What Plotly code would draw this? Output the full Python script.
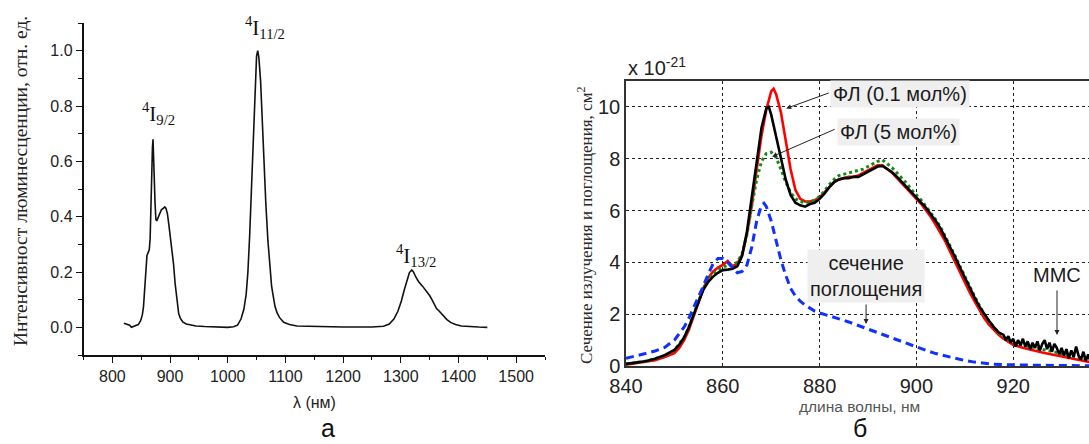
import plotly.graph_objects as go

# ---------------- data: panel (a) luminescence spectrum ----------------
lum_wl = [820, 825, 830, 833, 836, 840, 845, 849, 852, 854, 856, 858, 860, 862, 864, 865.5, 866.5, 868,
          869.5, 870.5, 871.5, 872.5, 874, 875.5, 877, 879, 882, 885, 888, 891, 893, 895.5, 898, 900,
          903, 906, 909, 912, 915, 918, 922, 928, 935, 945, 960, 980, 1000, 1010, 1017, 1023, 1028,
          1032, 1035, 1038, 1041, 1044, 1047, 1050, 1052, 1054, 1057, 1060, 1063, 1066, 1069.6, 1073,
          1076, 1078.3, 1082, 1086, 1090, 1097, 1107, 1120, 1150, 1200, 1250, 1270, 1280, 1288, 1295,
          1301, 1306, 1311, 1315, 1319, 1322, 1326, 1331, 1338, 1345, 1350, 1354, 1358, 1362, 1366,
          1370, 1375, 1380, 1387, 1395, 1405, 1420, 1435, 1450]
lum_int = [0.015, 0.012, 0.008, 0.0, 0.002, 0.004, 0.01, 0.024, 0.045, 0.075, 0.13, 0.2, 0.26, 0.27,
           0.28, 0.32, 0.42, 0.55, 0.65, 0.68, 0.64, 0.55, 0.45, 0.39, 0.385, 0.395, 0.41, 0.425, 0.43,
           0.435, 0.43, 0.41, 0.37, 0.34, 0.29, 0.23, 0.155, 0.09, 0.05, 0.032, 0.02, 0.012, 0.008,
           0.005, 0.003, 0.001, 0.0, 0.002, 0.008, 0.03, 0.065, 0.12, 0.2, 0.33, 0.5, 0.71, 0.88, 0.98,
           1.0, 0.975, 0.89, 0.74, 0.58, 0.45, 0.315, 0.21, 0.15, 0.12, 0.075, 0.05, 0.035, 0.018,
           0.01, 0.005, 0.003, 0.001, 0.001, 0.004, 0.012, 0.03, 0.058, 0.095, 0.135, 0.175, 0.198,
           0.207, 0.2, 0.182, 0.165, 0.148, 0.13, 0.115, 0.1, 0.082, 0.068, 0.06, 0.05, 0.038, 0.028,
           0.017, 0.01, 0.005, 0.002, 0.001, 0.0]
a_xticks = [800, 900, 1000, 1100, 1200, 1300, 1400, 1500]
a_yticks = [0.0, 0.2, 0.4, 0.6, 0.8, 1.0]
a_labels = ["<sup>4</sup>I<sub>9/2</sub>", "<sup>4</sup>I<sub>11/2</sub>", "<sup>4</sup>I<sub>13/2</sub>"]
a_label_x = [879.5, 1063.8, 1326.4]
a_label_y = [0.773, 1.083, 0.26]

# ---------------- data: panel (б) cross sections (x 1e-21 cm^2) ----------------
red_wl = [840, 842, 844, 846, 848, 850, 851, 852, 853, 854, 855, 856, 857, 858, 859, 860, 861, 862,
          863, 864, 865, 866, 867, 868, 869, 870, 870.5, 871, 872, 873, 874, 875, 876, 877, 878, 879,
          880, 881, 882, 883, 884, 885, 886, 887, 888, 889, 890, 891, 892, 893, 894, 895, 896, 897,
          898, 899, 900, 901, 902, 903, 904, 905, 906, 907, 908, 909, 910, 911, 912, 913, 914, 915,
          916, 917, 918, 919, 920, 922, 924, 926, 928, 930, 932, 934, 936]
red_sig = [0.05, 0.1, 0.15, 0.22, 0.35, 0.5, 0.7, 1.0, 1.4, 1.95, 2.5, 3.0, 3.4, 3.65, 3.8, 3.9, 4.05,
           3.85, 3.95, 4.3, 5.1, 6.2, 7.6, 8.9, 9.9, 10.6, 10.7, 10.5, 9.8, 8.7, 7.6, 6.8, 6.45, 6.35,
           6.35, 6.4, 6.5, 6.7, 6.9, 7.1, 7.2, 7.25, 7.3, 7.3, 7.35, 7.45, 7.55, 7.65, 7.75, 7.75, 7.6,
           7.45, 7.25, 7.05, 6.85, 6.65, 6.45, 6.25, 6.0, 5.75, 5.45, 5.15, 4.8, 4.4, 4.0, 3.6, 3.25,
           2.85, 2.5, 2.15, 1.85, 1.6, 1.4, 1.2, 1.05, 0.92, 0.82, 0.7, 0.6, 0.52, 0.44, 0.36, 0.28,
           0.2, 0.14]

green_wl = [840, 842, 844, 846, 848, 850, 852, 853, 854, 855, 856, 857, 858, 859, 860, 861, 862, 863,
            864, 865, 866, 867, 868, 869, 870, 871, 872, 873, 874, 875, 876, 877, 878, 879, 880, 881,
            882, 883, 884, 885, 886, 887, 888, 889, 890, 891, 892, 893, 894, 895, 896, 897, 898, 899,
            900, 901, 902, 903, 904, 905, 906, 907, 908, 909, 910, 911, 912, 913, 914, 915, 916, 917,
            918, 919, 920, 922, 924, 926, 928, 930, 932, 934, 936]
green_sig = [0.08, 0.12, 0.18, 0.28, 0.4, 0.6, 1.1, 1.5, 2.0, 2.5, 3.0, 3.35, 3.55, 3.7, 3.8, 3.9, 3.9,
             4.0, 4.35, 5.1, 6.2, 7.2, 7.9, 8.2, 8.25, 8.05, 7.6, 7.1, 6.7, 6.45, 6.35, 6.3, 6.35, 6.4,
             6.55, 6.75, 7.0, 7.2, 7.35, 7.4, 7.45, 7.5, 7.55, 7.6, 7.7, 7.8, 7.9, 7.95, 7.8, 7.65,
             7.45, 7.25, 7.05, 6.8, 6.6, 6.4, 6.15, 5.9, 5.65, 5.35, 5.0, 4.65, 4.25, 3.85, 3.45, 3.05,
             2.7, 2.35, 2.0, 1.72, 1.48, 1.28, 1.12, 1.0, 0.9, 0.8, 0.72, 0.65, 0.58, 0.5, 0.4, 0.3,
             0.22]

black_wl = [840, 842, 844, 846, 848, 850, 851, 852, 853, 854, 855, 856, 857, 858, 859, 860, 861, 862,
            863, 864, 865, 866, 867, 868, 869, 869.5, 870, 871, 872, 873, 874, 875, 876, 877, 878, 879,
            880, 881, 882, 883, 884, 885, 886, 887, 888, 889, 890, 891, 892, 893, 894, 895, 896, 897,
            898, 899, 900, 901, 902, 903, 904, 905, 906, 907, 908, 909, 910, 911, 912, 913, 914, 915,
            916, 917, 918, 918.5, 919, 919.5, 920, 920.5, 921, 921.5, 922, 922.5, 923, 923.5, 924,
            924.5, 925, 925.5, 926, 926.5, 927, 927.5, 928, 928.5, 929, 929.5, 930, 930.5, 931, 931.5,
            932, 932.5, 933, 933.5, 934, 934.5, 935, 935.5, 936]
black_sig = [0.08, 0.12, 0.18, 0.28, 0.42, 0.62, 0.82, 1.1, 1.5, 2.0, 2.5, 2.95, 3.25, 3.45, 3.6, 3.7,
             3.72, 3.75, 3.85, 4.25, 5.2, 6.6, 8.0, 9.2, 9.95, 10.0, 9.7, 8.9, 8.0, 7.2, 6.6, 6.3, 6.2,
             6.15, 6.25, 6.3, 6.45, 6.65, 6.9, 7.1, 7.2, 7.25, 7.25, 7.3, 7.3, 7.4, 7.5, 7.6, 7.7, 7.72,
             7.6, 7.48, 7.3, 7.1, 6.9, 6.7, 6.5, 6.3, 6.1, 5.85, 5.6, 5.3, 4.95, 4.6, 4.2, 3.8, 3.4,
             3.0, 2.65, 2.3, 2.0, 1.75, 1.5, 1.3, 1.2, 1.0, 1.15, 0.9, 1.05, 0.75, 1.0, 0.8, 1.05, 0.75,
             0.95, 0.65, 0.9, 0.7, 0.95, 0.6, 0.85, 1.0, 0.65, 0.9, 0.55, 0.85, 0.7, 0.45, 0.7, 0.4,
             0.65, 0.3, 0.6, 0.35, 0.75, 0.4, 0.25, 0.55, 0.2, 0.45, 0.15]

blue_wl = [840, 842, 844, 846, 848, 850, 851, 852, 853, 854, 855, 856, 857, 858, 859, 860, 861, 862,
           863, 864, 865, 866, 867, 868, 868.5, 869, 870, 871, 872, 873, 874, 875, 876, 877, 878, 879,
           880, 882, 884, 886, 888, 890, 892, 894, 896, 898, 900, 902, 904, 906, 908, 910, 912, 914,
           916, 918, 920, 925, 930, 936]
blue_sig = [0.3, 0.38, 0.48, 0.58, 0.72, 1.0, 1.25, 1.5, 1.85, 2.25, 2.65, 3.1, 3.55, 3.95, 4.15,
            4.15, 4.0, 3.8, 3.6, 3.65, 3.9, 4.6, 5.6, 6.2, 6.28, 6.15, 5.6, 4.85, 4.1, 3.5, 3.0, 2.7,
            2.5, 2.35, 2.22, 2.12, 2.05, 1.92, 1.82, 1.7, 1.56, 1.42, 1.28, 1.14, 1.0, 0.86, 0.72, 0.6,
            0.48, 0.38, 0.29, 0.21, 0.15, 0.1, 0.07, 0.05, 0.04, 0.03, 0.02, 0.01]
b_xticks = [840, 860, 880, 900, 920]
b_yticks = [0, 2, 4, 6, 8, 10]

# ---------------- layout helpers ----------------
W, H = 1089, 444
def fx(p):
    return p / W
def fy(p):
    return 1 - p / H

SANS = "Liberation Sans"
SERIF = "Liberation Serif"

fig = go.Figure()
fig.add_trace(go.Scatter(x=lum_wl, y=lum_int, mode="lines", line=dict(color="#111111", width=1.6),
                         xaxis="x", yaxis="y"))
fig.add_trace(go.Scatter(x=red_wl, y=red_sig, mode="lines", line=dict(color="#ff0000", width=2.6),
                         xaxis="x2", yaxis="y2"))
fig.add_trace(go.Scatter(x=green_wl, y=green_sig, mode="lines",
                         line=dict(color="#138a13", width=3, dash="dot"), xaxis="x2", yaxis="y2"))
fig.add_trace(go.Scatter(x=black_wl, y=black_sig, mode="lines", line=dict(color="#000000", width=2.6),
                         xaxis="x2", yaxis="y2"))
fig.add_trace(go.Scatter(x=blue_wl, y=blue_sig, mode="lines",
                         line=dict(color="#1030ff", width=3, dash="8px,5px"), xaxis="x2", yaxis="y2"))

ann = []
C = dict(xanchor="center", yanchor="middle", showarrow=False)
# panel a labels
for t, x, y in zip(a_labels, a_label_x, a_label_y):
    ann.append(dict(C, text=t, x=x, y=y, xref="x", yref="y",
                    font=dict(family=SERIF, size=21, color="#111111")))
ann.append(dict(C, text="Интенсивност люминесценции, отн. ед.", x=fx(21), y=fy(181), xref="paper",
                yref="paper", textangle=-90,
                font=dict(family=SERIF, size=19.5, color="#222222")))
ann.append(dict(C, text="λ (нм)", x=fx(314), y=fy(402), xref="paper", yref="paper",
                font=dict(family=SANS, size=16, color="#222222")))
ann.append(dict(C, text="а", x=fx(328), y=0, xref="paper", yref="paper", yanchor="bottom",
                font=dict(family=SANS, size=25, color="#111111")))

# panel b labels
ann.append(dict(C, text="Сечение излучения и поглощения, см<sup>2</sup>", x=fx(585), y=fy(226),
                xref="paper", yref="paper", textangle=-90,
                font=dict(family=SERIF, size=17, color="#2a2a2a")))
ann.append(dict(C, text="x 10<sup>-21</sup>", x=fx(626), y=fy(66), xref="paper", yref="paper",
                xanchor="left", font=dict(family=SANS, size=20, color="#222222")))
ann.append(dict(C, text="длина волны, нм", x=fx(859), y=fy(406), xref="paper", yref="paper",
                font=dict(family=SANS, size=15.5, color="#555555")))
ann.append(dict(C, text="б", x=fx(860), y=0, xref="paper", yref="paper", yanchor="bottom",
                font=dict(family=SANS, size=25, color="#111111")))

box_font = dict(family=SANS, size=20, color="#1a1a1a")
ann.append(dict(C, text="ФЛ (0.1 мол%)", x=896.6, y=10.48, xref="x2", yref="y2",
                bgcolor="#efefef", borderpad=2, font=box_font))
ann.append(dict(C, text="ФЛ (5 мол%)", x=896.4, y=9.05, xref="x2", yref="y2",
                bgcolor="#efefef", borderpad=2, font=box_font))
ann.append(dict(C, text="сечение<br>поглощения", x=889.5, y=3.48, xref="x2", yref="y2",
                bgcolor="#efefef", borderpad=2, font=box_font))
ann.append(dict(C, text="ММС", x=929.05, y=3.52, xref="x2", yref="y2", font=box_font))

arrow = dict(text="", xref="x2", yref="y2", showarrow=True, arrowhead=2, arrowsize=1,
             arrowwidth=1, arrowcolor="#222222")
ann.append(dict(arrow, x=873.1, y=9.94, ax=44, ay=-16))
ann.append(dict(arrow, x=870.2, y=8.08, ax=64, ay=-28))
ann.append(dict(arrow, x=889.6, y=1.62, ax=0, ay=-21))
ann.append(dict(arrow, x=929.05, y=1.2, ax=0, ay=-46))

fig.update_layout(
    width=W, height=H, margin=dict(l=0, r=0, t=0, b=0, pad=0, autoexpand=False),
    paper_bgcolor="white", plot_bgcolor="white", showlegend=False, hovermode=False,
    font=dict(family=SANS, color="#222222"),
    annotations=ann,
    xaxis=dict(domain=[fx(83.5), fx(545)], range=[750, 1550], anchor="y", tickvals=a_xticks,
               ticks="outside", ticklen=6, tickwidth=1.3, tickcolor="#111111", showline=True,
               linecolor="#111111", linewidth=1.5, showgrid=False, zeroline=False, automargin=False,
               tickfont=dict(family=SANS, size=16, color="#222222"),
               minor=dict(dtick=50, tick0=750, ticks="outside", ticklen=3.5, tickcolor="#111111",
                          tickwidth=1.2, showgrid=False)),
    yaxis=dict(domain=[fy(355), fy(23)], range=[-0.1, 1.1], anchor="x", tickvals=a_yticks,
               tickformat=".1f", ticks="outside", ticklen=6, tickwidth=1.3, tickcolor="#111111",
               showline=True, linecolor="#111111", linewidth=1.5, showgrid=False, zeroline=False,
               automargin=False, tickfont=dict(family=SANS, size=16, color="#222222"),
               minor=dict(dtick=0.1, tick0=-0.1, ticks="outside", ticklen=3.5, tickcolor="#111111",
                          tickwidth=1.2, showgrid=False)),
    xaxis2=dict(domain=[fx(626), 1.0], range=[840, 935.66], anchor="y2", tickvals=b_xticks,
                ticks="", showline=True, mirror=True, linecolor="#333333", linewidth=1.5,
                showgrid=True, gridcolor="#222222", gridwidth=1, griddash="3px,3px", zeroline=False,
                automargin=False, ticklabelstandoff=1,
                tickfont=dict(family=SANS, size=20, color="#222222")),
    yaxis2=dict(domain=[fy(366), fy(81)], range=[0, 11], anchor="x2", tickvals=b_yticks,
                ticks="", showline=True, linecolor="#333333", linewidth=1.5, showgrid=True,
                gridcolor="#222222", gridwidth=1, griddash="3px,3px", zeroline=False,
                automargin=False, tickfont=dict(family=SANS, size=20, color="#222222")),
)

fig.write_html("out.html")
